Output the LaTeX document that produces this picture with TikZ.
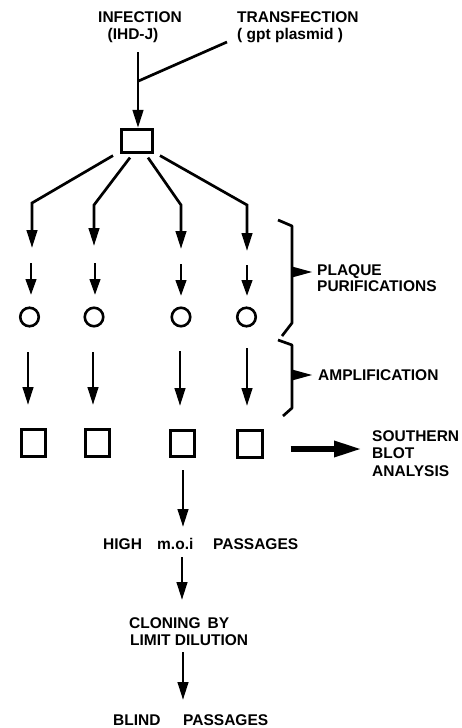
\documentclass[tikz,border=0pt]{standalone}
\usepackage{fontspec}
\setmainfont{Liberation Sans}
\usetikzlibrary{arrows.meta,calc}
\begin{document}
\begin{tikzpicture}[x=1pt,y=-1pt,
  every node/.style={inner sep=0pt},
  lbl/.style={font=\fontsize{15.5}{17}\selectfont\bfseries, text height=11pt, text depth=3pt},
  ln/.style={line width=2.7pt, line join=miter},
  arr/.style={ln, -{Triangle[length=18pt,width=10.5pt]}},
  sarr/.style={ln, -{Triangle[length=16pt,width=10.5pt]}},
  bigarr/.style={line width=6pt, -{Triangle[length=28pt,width=15pt]}},
  cell/.style={draw, line width=2.7pt, rectangle, minimum width=24.5pt, minimum height=26.5pt},
  plaque/.style={draw, line width=2.6pt, circle, minimum size=18.5pt},
  brace/.style={line width=2.7pt, line join=round}
]
\useasboundingbox (0,0) rectangle (462,728);

% --- starting material ---
\node[lbl, anchor=base] (inf)  at (140,23)   {INFECTION};
\node[lbl, anchor=base] (ihd)  at (133,39.5) {(IHD-J)};
\node[lbl, anchor=base west] (tra) at (237,23)   {TRANSFECTION};
\node[lbl, anchor=base west] (gpt) at (237,39.5) {( gpt plasmid )};

\node[draw, line width=2.7pt, rectangle, minimum width=31.5pt, minimum height=23.5pt] (top) at (137,141) {};

\coordinate (instart) at (138,52);
\coordinate (join)    at (138.5,81);
\coordinate (trstart) at (227,42);
\draw[arr] (instart) -- (top.north -| instart);
\draw[ln] (trstart) -- (join);

% --- split into four lines ---
\coordinate (t1) at ($(top.south)+(-24,1.5)$);
\coordinate (t2) at ($(top.south)+(-7,3.5)$);
\coordinate (t3) at ($(top.south)+(11,3.5)$);
\coordinate (t4) at ($(top.south)+(23,1.5)$);
\draw[arr] (t1) -- (32,203) -- (32,248);
\draw[arr] (t2) -- (94,205) -- (94,246);
\draw[arr] (t3) -- (181,205) -- (181,249);
\draw[arr] (t4) -- (247,205) -- (247,251);

% --- plaque purification ---
\node[plaque] (p1) at (29.5,317) {};
\node[plaque] (p2) at (94,317) {};
\node[plaque] (p3) at (181,317) {};
\node[plaque] (p4) at (246.5,317) {};
\draw[sarr] (31,263) -- (31,295);
\draw[sarr] (95,263) -- (95,295);
\draw[sarr] (181,264) -- (181,296);
\draw[sarr] (247,265) -- (247,296);

% --- amplification ---
\node[cell] (s1) at (33.5,443) {};
\node[cell] (s2) at (97.5,443) {};
\node[cell] (s3) at (182.5,443.5) {};
\node[cell] (s4) at (250,444) {};
\draw[arr] (28,352) -- (28,405);
\draw[arr] (93,352) -- (93,405);
\draw[arr] (180,351) -- (180,406);
\draw[arr] (247,348) -- (247,406);

% --- braces ---
\draw[brace] (278,220) -- (292,226) -- (292,323) -- (282,336);
\fill (292,266.5) -- (312,272) -- (292,277.5) -- cycle;
\draw[brace] (278,340) -- (292,345) -- (292,408) -- (283,416);
\fill (292,369.5) -- (312,375) -- (292,380.5) -- cycle;

\node[lbl, anchor=base west] (pq1) at (317,275) {PLAQUE};
\node[lbl, anchor=base west] (pq2) at (317,291) {PURIFICATIONS};
\node[lbl, anchor=base west] (amp) at (318,380) {AMPLIFICATION};

% --- southern blot ---
\coordinate (sbend) at (362,449);
\draw[bigarr] ($(s4.east)+(27,5)$) -- (sbend);
\node[lbl, anchor=base west] (sb1) at (372,441)   {SOUTHERN};
\node[lbl, anchor=base west] (sb2) at (372,458.5) {BLOT};
\node[lbl, anchor=base west] (sb3) at (372,476)   {ANALYSIS};

% --- passages ---
\node[lbl, anchor=base west] (hi1) at (103,549) {HIGH};
\node[lbl, anchor=base west] (hi2) at (157,549) {m.o.i};
\node[lbl, anchor=base west] (hi3) at (213,549) {PASSAGES};
\draw[arr] ([yshift=-12pt,xshift=0.5pt]s3.south) -- (183,527);

\node[lbl, anchor=base west] (cl1) at (129,628) {CLONING\hspace{7pt}BY};
\node[lbl, anchor=base west] (cl2) at (130,645) {LIMIT DILUTION};
\draw[arr] (182,557) -- (182,600);

\node[lbl, anchor=base west] (bl1) at (113,725) {BLIND};
\node[lbl, anchor=base west] (bl2) at (183,725) {PASSAGES};
\draw[arr] (183,652) -- (183,700);
\end{tikzpicture}
\end{document}
